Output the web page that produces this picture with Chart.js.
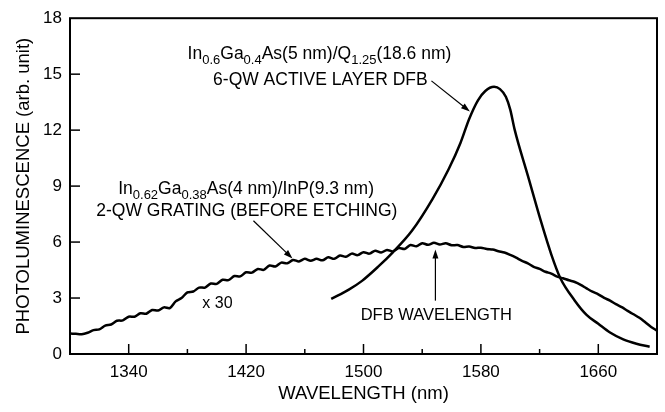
<!DOCTYPE html>
<html>
<head>
<meta charset="utf-8">
<script src="https://cdn.jsdelivr.net/npm/chart.js@4.4.0/dist/chart.umd.min.js"></script>
<style>
  html, body { margin: 0; padding: 0; background: #fff; }
  #wrap { width: 665px; height: 412px; }
</style>
</head>
<body>
<div id="wrap"><canvas id="plChart" width="665" height="412"></canvas></div>
<script>
// 2-QW grating PL (x30), sampled every 4 nm
const gratingWavelengths = [
  1300, 1304, 1308, 1312, 1316, 1320, 1324, 1328, 1332, 1336,
  1340, 1344, 1348, 1352, 1356, 1360, 1364, 1368, 1372, 1376,
  1380, 1384, 1388, 1392, 1396, 1400, 1404, 1408, 1412, 1416,
  1420, 1424, 1428, 1432, 1436, 1440, 1444, 1448, 1452, 1456,
  1460, 1464, 1468, 1472, 1476, 1480, 1484, 1488, 1492, 1496,
  1500, 1504, 1508, 1512, 1516, 1520, 1524, 1528, 1532, 1536,
  1540, 1544, 1548, 1552, 1556, 1560, 1564, 1568, 1572, 1576,
  1580, 1584, 1588, 1592, 1596, 1600, 1604, 1608, 1612, 1616,
  1620, 1624, 1628, 1632, 1636, 1640, 1644, 1648, 1652, 1656,
  1660, 1664, 1668, 1672, 1676, 1680, 1684, 1688, 1692, 1696,
  1700
];
const gratingPL = [
  1.10, 1.08, 1.06, 1.14, 1.28, 1.32, 1.52, 1.58, 1.78, 1.80,
  2.00, 2.00, 2.18, 2.16, 2.36, 2.33, 2.50, 2.46, 2.82, 3.00,
  3.30, 3.35, 3.56, 3.56, 3.78, 3.76, 3.98, 3.96, 4.18, 4.16,
  4.38, 4.36, 4.56, 4.51, 4.74, 4.69, 4.90, 4.86, 5.04, 4.96,
  5.10, 5.00, 5.10, 5.02, 5.18, 5.10, 5.28, 5.21, 5.38, 5.30,
  5.46, 5.38, 5.54, 5.44, 5.58, 5.50, 5.68, 5.63, 5.84, 5.77,
  5.94, 5.85, 5.96, 5.87, 5.94, 5.83, 5.84, 5.74, 5.76, 5.68,
  5.70, 5.63, 5.60, 5.51, 5.44, 5.31, 5.16, 4.99, 4.86, 4.67,
  4.56, 4.41, 4.31, 4.15, 4.06, 3.95, 3.86, 3.71, 3.52, 3.34,
  3.20, 3.01, 2.86, 2.67, 2.51, 2.31, 2.13, 1.94, 1.70, 1.45,
  1.25
];

// 6-QW active layer DFB PL
const dfbWavelengths = [
  1478, 1490, 1499, 1510, 1520, 1533, 1547, 1558, 1566, 1572,
  1578, 1583, 1589, 1593, 1597, 1600, 1603, 1612, 1621, 1628,
  1634, 1644, 1652, 1660, 1668, 1677, 1686, 1695
];
const dfbPL = [
  2.95, 3.45, 3.92, 4.68, 5.45, 6.60, 8.30, 9.90, 11.30, 12.60,
  13.60, 14.10, 14.32, 14.20, 13.79, 13.10, 12.03, 9.56, 7.09, 5.33,
  4.09, 2.86, 2.10, 1.62, 1.15, 0.78, 0.55, 0.39
];

const xLabelTicks = [1340, 1420, 1500, 1580, 1660];
const yTickStep = 3;

const FONT = "'Liberation Sans', Arial, Helvetica, sans-serif";
Chart.defaults.font.family = FONT;
Chart.defaults.color = "#000";

function toPoints(xs, ys) {
  return xs.map((x, i) => ({ x: x, y: ys[i] }));
}

// labels and arrows, placed in data units
const notes = [
  { parts: [["In"], ["0.6", 1], ["Ga"], ["0.4", 1], ["As(5 nm)/Q"], ["1.25", 1], ["(18.6 nm)"]], x: 1470, y: 15.8, size: 17.5 },
  { parts: [["6-QW ACTIVE LAYER DFB"]], x: 1470.6, y: 14.44, size: 17.5 },
  { parts: [["In"], ["0.62", 1], ["Ga"], ["0.38", 1], ["As(4 nm)/InP(9.3 nm)"]], x: 1420, y: 8.59, size: 17.5 },
  { parts: [["2-QW GRATING (BEFORE ETCHING)"]], x: 1420.5, y: 7.41, size: 17.5 },
  { parts: [["x 30"]], x: 1400.5, y: 2.47, size: 16 },
  { parts: [["DFB WAVELENGTH"]], x: 1549.6, y: 1.8, size: 16.5 }
];
const arrows = [
  { from: [1546.3, 14.64], to: [1572.5, 13.0] },
  { from: [1425, 7.14], to: [1451.6, 5.12] },
  { from: [1549, 2.86], to: [1549, 5.6] }
];

function drawRich(ctx, parts, cx, baseY, size) {
  const subSize = Math.round(size * 0.72);
  let total = 0;
  parts.forEach(p => {
    ctx.font = (p[1] ? subSize : size) + "px " + FONT;
    total += ctx.measureText(p[0]).width;
  });
  let x = cx - total / 2;
  ctx.textAlign = "left";
  ctx.textBaseline = "alphabetic";
  parts.forEach(p => {
    ctx.font = (p[1] ? subSize : size) + "px " + FONT;
    ctx.fillText(p[0], x, p[1] ? baseY + size * 0.3 : baseY);
    x += ctx.measureText(p[0]).width;
  });
}

function drawArrow(ctx, x1, y1, x2, y2) {
  const ang = Math.atan2(y2 - y1, x2 - x1);
  ctx.beginPath();
  ctx.moveTo(x1, y1);
  ctx.lineTo(x2 - 6 * Math.cos(ang), y2 - 6 * Math.sin(ang));
  ctx.lineWidth = 1.2;
  ctx.stroke();
  ctx.beginPath();
  ctx.moveTo(x2, y2);
  ctx.lineTo(x2 - 9 * Math.cos(ang) + 3 * Math.sin(ang), y2 - 9 * Math.sin(ang) - 3 * Math.cos(ang));
  ctx.lineTo(x2 - 9 * Math.cos(ang) - 3 * Math.sin(ang), y2 - 9 * Math.sin(ang) + 3 * Math.cos(ang));
  ctx.closePath();
  ctx.fill();
}

// box round the plot and inward tick marks
const framePlugin = {
  id: "frame",
  afterDatasetsDraw(chart) {
    const { ctx, chartArea: a, scales } = chart;
    ctx.save();
    ctx.strokeStyle = "#000";
    ctx.lineWidth = 2;
    ctx.strokeRect(a.left, a.top, a.right - a.left, a.bottom - a.top);
    ctx.lineWidth = 1.5;
    scales.x.ticks.forEach(t => {
      if (t.value <= scales.x.min || t.value >= scales.x.max) return;
      const px = scales.x.getPixelForValue(t.value);
      const len = xLabelTicks.includes(t.value) ? 10 : 5;
      ctx.beginPath();
      ctx.moveTo(px, a.bottom);
      ctx.lineTo(px, a.bottom - len);
      ctx.stroke();
    });
    scales.y.ticks.forEach(t => {
      if (t.value <= scales.y.min || t.value >= scales.y.max) return;
      const py = scales.y.getPixelForValue(t.value);
      ctx.beginPath();
      ctx.moveTo(a.left, py);
      ctx.lineTo(a.left + 10, py);
      ctx.stroke();
    });
    ctx.restore();
  }
};

const notesPlugin = {
  id: "notes",
  afterDraw(chart) {
    const { ctx, scales } = chart;
    ctx.save();
    ctx.fillStyle = "#000";
    ctx.strokeStyle = "#000";
    notes.forEach(n => {
      drawRich(ctx, n.parts, scales.x.getPixelForValue(n.x), scales.y.getPixelForValue(n.y), n.size);
    });
    arrows.forEach(r => {
      drawArrow(ctx,
        scales.x.getPixelForValue(r.from[0]), scales.y.getPixelForValue(r.from[1]),
        scales.x.getPixelForValue(r.to[0]), scales.y.getPixelForValue(r.to[1]));
    });
    ctx.restore();
  }
};

new Chart(document.getElementById("plChart"), {
  type: "line",
  data: {
    datasets: [
      {
        label: "2-QW grating",
        data: toPoints(gratingWavelengths, gratingPL),
        borderColor: "#000",
        borderWidth: 2.5,
        pointRadius: 0,
        tension: 0.3
      },
      {
        label: "6-QW active layer",
        data: toPoints(dfbWavelengths, dfbPL),
        borderColor: "#000",
        borderWidth: 2.5,
        pointRadius: 0,
        cubicInterpolationMode: "monotone"
      }
    ]
  },
  options: {
    responsive: false,
    animation: false,
    devicePixelRatio: 1,
    layout: { padding: { top: 14, right: 7, left: 0, bottom: 0 } },
    plugins: { legend: { display: false }, tooltip: { enabled: false } },
    scales: {
      x: {
        type: "linear",
        min: 1300,
        max: 1700,
        grid: { display: false, drawTicks: false },
        border: { display: false },
        ticks: {
          stepSize: 40,
          autoSkip: false,
          maxRotation: 0,
          padding: 8,
          font: { size: 17 },
          callback: v => (xLabelTicks.includes(v) ? String(v) : "")
        },
        title: {
          display: true,
          text: "WAVELENGTH (nm)",
          font: { size: 18.5 },
          padding: { top: 0, bottom: 7 }
        },
        afterFit: s => { s.height = 58; }
      },
      y: {
        min: 0,
        max: 18,
        grid: { display: false, drawTicks: false },
        border: { display: false },
        ticks: { stepSize: yTickStep, padding: 8, font: { size: 17 } },
        title: {
          display: true,
          text: "PHOTOLUMINESCENCE (arb. unit)",
          font: { size: 18.5 },
          padding: { top: 13, bottom: 0 }
        },
        afterFit: s => { s.width = 70; }
      }
    }
  },
  plugins: [framePlugin, notesPlugin]
});
</script>
</body>
</html>
